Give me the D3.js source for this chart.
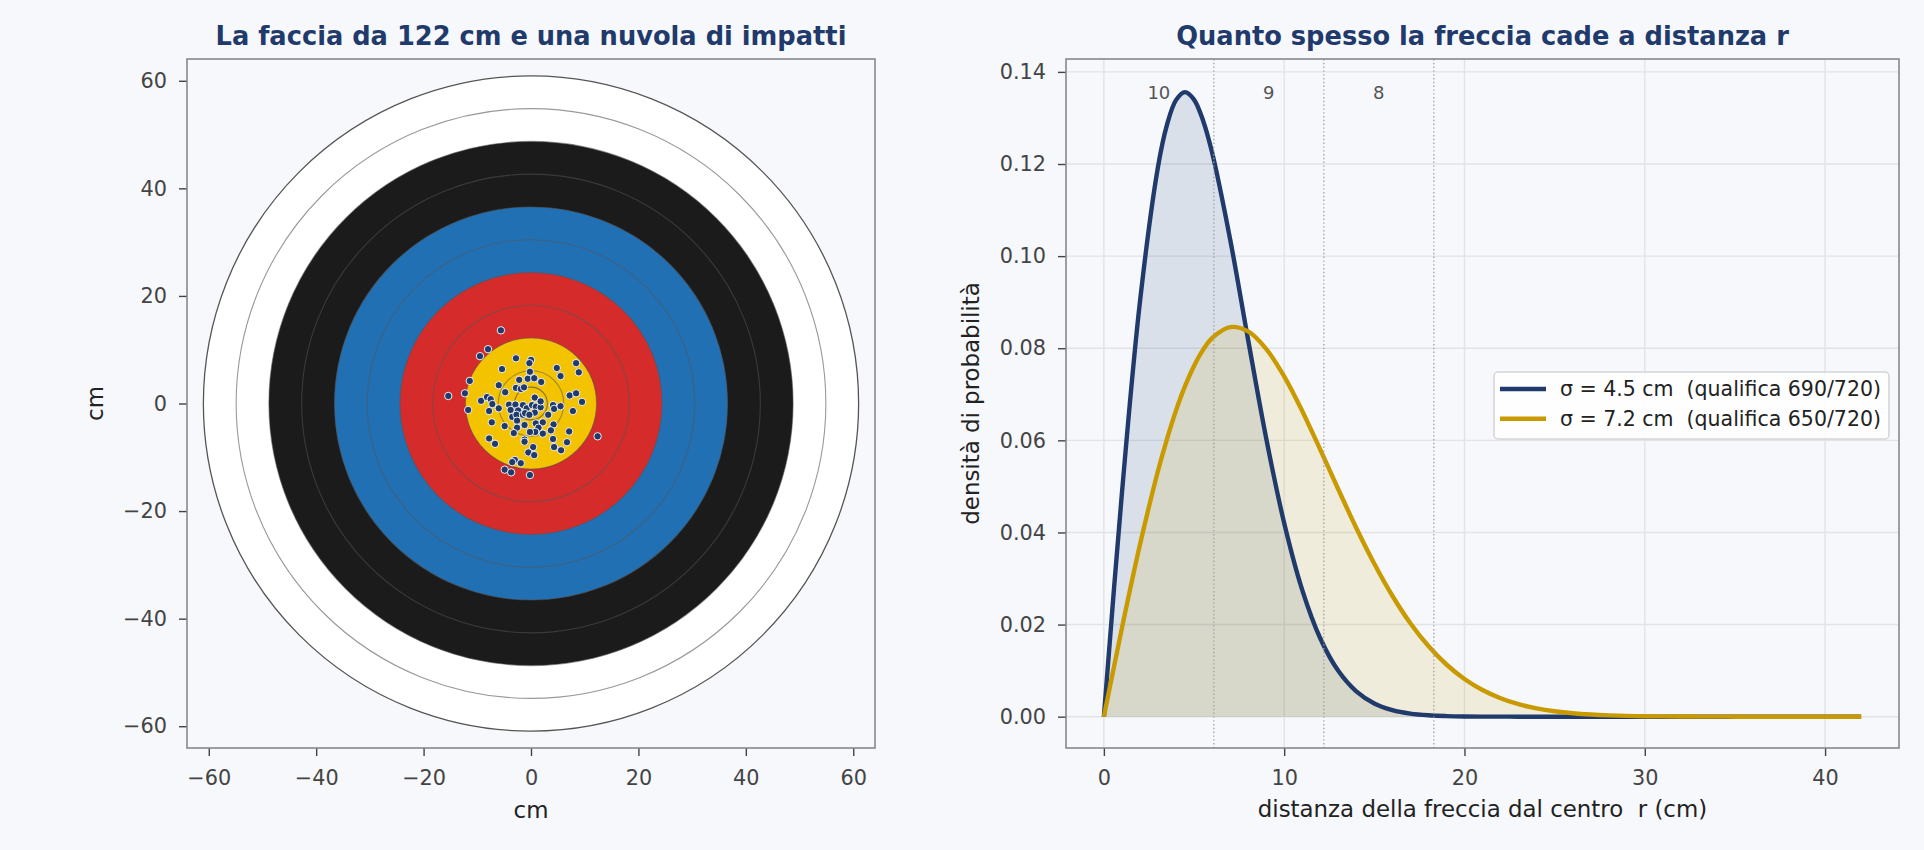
<!DOCTYPE html>
<html>
<head>
<meta charset="utf-8">
<script src="https://cdn.jsdelivr.net/npm/d3@7"></script>
<style>
  body { margin: 0; background: #f6f8fc; }
  svg { display: block; font-family: "DejaVu Sans", sans-serif; }
  text { white-space: pre; }
</style>
</head>
<body>
<svg width="1924" height="850"></svg>
<script>
// ---- data ----
// ring radii of the 122 cm face, outer to inner (cm)
var ringRadii  = [61, 54.9, 48.8, 42.7, 36.6, 30.5, 24.4, 18.3, 12.2, 6.1, 3.05];
var ringColors = ["#ffffff", "#ffffff", "#1b1b1b", "#1b1b1b", "#2170b4", "#2170b4",
                  "#d62b2b", "#d62b2b", "#f4c300", "#f4c300", "#f4c300"];

// impacts (cm from centre)
var impactX = [-5.6, -8.0, -9.5, -2.8, 0.0, -0.3, 8.4, 8.9, 4.8, 5.5, -5.4, -0.2, -2.2, -0.6, 0.6,
               1.9, -11.4, -6.0, -4.8, -2.8, -1.9, -1.3, -12.3, -15.4, -9.3, -8.2, -7.5, -7.2, -11.7, -7.8,
               -6.0, -4.1, -2.9, -1.5, -3.8, -2.4, -0.8, 0.7, 0.2, 0.9, 1.8, 0.7, -3.5, -2.7, -1.5,
               -1.1, -7.3, -4.9, -2.6, -2.6, -3.2, -1.2, 0.9, 2.2, 1.4, 0.8, -0.2, 2.2, 3.2, 4.1,
               4.3, 5.5, 4.2, 3.7, 7.2, 8.4, 9.5, 7.8, 7.1, 4.1, 6.7, 4.3, 5.6, 12.4, -7.8,
               -6.7, -1.2, -1.2, 0.4, -0.5, 0.6, -3.0, -3.5, -1.9, -4.9, -3.7, -0.2, 1.8, -0.3];
var impactY = [13.6, 10.1, 8.8, 8.4, 8.1, 7.5, 7.5, 5.8, 6.6, 5.1, 6.4, 5.9, 4.4, 4.6, 4.7,
               4.0, 4.2, 3.4, 2.1, 2.9, 2.7, 3.0, 1.9, 1.4, 0.5, 1.2, 0.8, -0.1, -1.2, -1.4,
               -0.9, -0.2, -0.2, -0.3, -1.2, -1.3, -0.9, 1.1, -0.3, -0.6, -0.7, -1.7, -2.5, -2.1, -2.1,
               -1.8, -3.5, -4.2, -3.2, -4.5, -5.5, -4.0, -3.7, -3.5, -4.5, -5.3, -5.3, -5.6, -2.1, -0.3,
               -1.0, -0.5, -3.9, -5.0, 1.5, 1.9, 0.3, -1.4, -5.2, -6.6, -7.2, -8.1, -8.7, -6.1, -6.5,
               -7.5, -6.7, -7.1, -8.1, -9.1, -9.6, -10.5, -10.9, -11.1, -12.3, -12.8, -13.3, 0.4, -2.1];

// distance from centre (cm) and density
var rCm = [0, 1, 2, 3, 3.5, 4, 4.5, 5, 5.5, 6, 7, 8, 9, 10, 11, 12, 13, 14, 15, 16, 17, 18, 19, 20,
           21, 22, 23, 24, 25, 26, 27, 28, 29, 30, 31, 32, 33, 34, 35, 36, 37, 38, 39, 40, 41, 42];
var dens45 = [0, 0.04847, 0.09002, 0.11934, 0.12850, 0.13387, 0.13561, 0.13399, 0.12946, 0.12254,
              0.10372, 0.08184, 0.06051, 0.04205, 0.02754, 0.01703, 0.00995, 0.00550, 0.00288, 0.00143,
              0.00067, 0.00030, 0.00013, 0.00005, 0.00002, 0.00001, 0, 0, 0, 0, 0, 0, 0, 0, 0, 0, 0,
              0, 0, 0, 0, 0, 0, 0, 0, 0];
var dens72 = [0, 0.01921, 0.03731, 0.05333, 0.06029, 0.06646, 0.07176, 0.07616, 0.07965, 0.08220,
              0.08459, 0.08366, 0.07988, 0.07390, 0.06639, 0.05801, 0.04938, 0.04098, 0.03321, 0.02626,
              0.02029, 0.01534, 0.01133, 0.00818, 0.00579, 0.00401, 0.00271, 0.00180, 0.00117, 0.00074,
              0.00046, 0.00028, 0.00017, 0.00010, 0.00006, 0.00003, 0.00002, 0.00001, 0, 0, 0, 0, 0,
              0, 0, 0];

var zoneEdges = [6.1, 12.2, 18.3];
var zoneLabels = ["10", "9", "8"];
var zoneMids = [3.05, 9.15, 15.25];

var seriesNames = ["σ = 4.5 cm  (qualifica 690/720)", "σ = 7.2 cm  (qualifica 650/720)"];
var seriesColors = ["#1f3a6b", "#c99a00"];

var svg = d3.select("svg");
var navy = "#1f3a6b";

// ---- left panel: target face ----
var L = {left: 187, right: 875, top: 59, bottom: 748};
var xL = d3.scaleLinear().domain([-64.05, 64.05]).range([L.left, L.right]),
    yL = d3.scaleLinear().domain([-64.05, 64.05]).range([L.bottom, L.top]);

var gL = svg.append("g");
gL.append("rect")
    .attr("x", L.left).attr("y", L.top)
    .attr("width", L.right - L.left).attr("height", L.bottom - L.top)
    .attr("fill", "#f6f8fc");

gL.selectAll(".ring")
  .data(ringRadii)
  .join("circle")
    .attr("class", "ring")
    .attr("cx", xL(0))
    .attr("cy", yL(0))
    .attr("r", d => xL(d) - xL(0))
    .attr("fill", (d, i) => ringColors[i])
    .attr("stroke", (d, i) => i === 0 ? "#555" : (i === 1 ? "#9a9a9a" : "#555"))
    .attr("stroke-opacity", (d, i) => i < 2 ? 1 : (i === 10 ? 0.75 : 0.55))
    .attr("stroke-width", (d, i) => i === 0 ? 1.3 : 1.1);

gL.selectAll(".impact")
  .data(impactX)
  .join("circle")
    .attr("class", "impact")
    .attr("cx", d => xL(d))
    .attr("cy", (d, i) => yL(impactY[i]))
    .attr("r", 3.7)
    .attr("fill", navy)
    .attr("stroke", "#ffffff")
    .attr("stroke-width", 0.9);

var axLx = gL.append("g")
    .attr("transform", "translate(0," + L.bottom + ")")
    .call(d3.axisBottom(xL).tickValues([-60, -40, -20, 0, 20, 40, 60]).tickSize(8).tickPadding(14));
var axLy = gL.append("g")
    .attr("transform", "translate(" + L.left + ",0)")
    .call(d3.axisLeft(yL).tickValues([-60, -40, -20, 0, 20, 40, 60]).tickSize(8).tickPadding(12));

gL.append("rect")
    .attr("x", L.left).attr("y", L.top)
    .attr("width", L.right - L.left).attr("height", L.bottom - L.top)
    .attr("fill", "none").attr("stroke", "#888").attr("stroke-width", 1.6);

gL.append("text")
    .attr("x", (L.left + L.right) / 2).attr("y", 45)
    .attr("text-anchor", "middle")
    .style("font-size", "25.7px").style("font-weight", "bold")
    .attr("fill", navy)
    .text("La faccia da 122 cm e una nuvola di impatti");

gL.append("text")
    .attr("x", (L.left + L.right) / 2).attr("y", 818)
    .attr("text-anchor", "middle")
    .style("font-size", "22.9px").attr("fill", "#222")
    .text("cm");

gL.append("text")
    .attr("transform", "translate(103," + (L.top + L.bottom) / 2 + ") rotate(-90)")
    .attr("text-anchor", "middle")
    .style("font-size", "22.9px").attr("fill", "#222")
    .text("cm");

// ---- right panel: radial density ----
var R = {left: 1066, right: 1899, top: 59, bottom: 748};
var xR = d3.scaleLinear().domain([-2.1, 44.1]).range([R.left, R.right]),
    yR = d3.scaleLinear().domain([-0.0068, 0.1428]).range([R.bottom, R.top]);

var gR = svg.append("g");
gR.append("rect")
    .attr("x", R.left).attr("y", R.top)
    .attr("width", R.right - R.left).attr("height", R.bottom - R.top)
    .attr("fill", "#f6f8fc");

var xTicks = [0, 10, 20, 30, 40],
    yTicks = [0, 0.02, 0.04, 0.06, 0.08, 0.10, 0.12, 0.14];

// grid
gR.selectAll(".gx")
  .data(xTicks)
  .join("line")
    .attr("x1", d => xR(d)).attr("x2", d => xR(d))
    .attr("y1", R.top).attr("y2", R.bottom)
    .attr("stroke", "#e1e3e8").attr("stroke-width", 1.4);
gR.selectAll(".gy")
  .data(yTicks)
  .join("line")
    .attr("y1", d => yR(d)).attr("y2", d => yR(d))
    .attr("x1", R.left).attr("x2", R.right)
    .attr("stroke", "#e1e3e8").attr("stroke-width", 1.4);

var series = [dens45, dens72];

var area = d3.area()
    .x((d, i) => xR(rCm[i]))
    .y0(yR(0))
    .y1(d => yR(d))
    .curve(d3.curveCatmullRom.alpha(0.5));

var line = d3.line()
    .x((d, i) => xR(rCm[i]))
    .y(d => yR(d))
    .curve(d3.curveCatmullRom.alpha(0.5));

gR.selectAll(".fill")
  .data(series)
  .join("path")
    .attr("d", area)
    .attr("fill", (d, i) => seriesColors[i])
    .attr("fill-opacity", 0.13);

gR.selectAll(".curve")
  .data(series)
  .join("path")
    .attr("d", line)
    .attr("fill", "none")
    .attr("stroke", (d, i) => seriesColors[i])
    .attr("stroke-width", 4.4)
    .attr("stroke-linejoin", "round");

// ring boundaries
gR.selectAll(".edge")
  .data(zoneEdges)
  .join("line")
    .attr("x1", d => xR(d)).attr("x2", d => xR(d))
    .attr("y1", R.top).attr("y2", R.bottom)
    .attr("stroke", "#a0a0a0").attr("stroke-width", 1.3)
    .attr("stroke-dasharray", "1.4,2.4");

gR.selectAll(".zone")
  .data(zoneLabels)
  .join("text")
    .attr("x", (d, i) => xR(zoneMids[i]))
    .attr("y", yR(0.1355))
    .attr("dy", "0.35em")
    .attr("text-anchor", "middle")
    .style("font-size", "18px")
    .attr("fill", "#555")
    .text(d => d);

var axRx = gR.append("g")
    .attr("transform", "translate(0," + R.bottom + ")")
    .call(d3.axisBottom(xR).tickValues(xTicks).tickFormat(d3.format("d")).tickSize(8).tickPadding(14));
var axRy = gR.append("g")
    .attr("transform", "translate(" + R.left + ",0)")
    .call(d3.axisLeft(yR).tickValues(yTicks).tickFormat(d3.format(".2f")).tickSize(8).tickPadding(12));

gR.append("rect")
    .attr("x", R.left).attr("y", R.top)
    .attr("width", R.right - R.left).attr("height", R.bottom - R.top)
    .attr("fill", "none").attr("stroke", "#888").attr("stroke-width", 1.6);

gR.append("text")
    .attr("x", (R.left + R.right) / 2).attr("y", 45)
    .attr("text-anchor", "middle")
    .style("font-size", "25.7px").style("font-weight", "bold")
    .attr("fill", navy)
    .text("Quanto spesso la freccia cade a distanza r");

gR.append("text")
    .attr("x", (R.left + R.right) / 2).attr("y", 817)
    .attr("text-anchor", "middle")
    .style("font-size", "22.9px").attr("fill", "#222")
    .text("distanza della freccia dal centro  r (cm)");

gR.append("text")
    .attr("transform", "translate(979," + (R.top + R.bottom) / 2 + ") rotate(-90)")
    .attr("text-anchor", "middle")
    .style("font-size", "22.9px").attr("fill", "#222")
    .text("densità di probabilità");

// legend
var legend = gR.append("g").attr("transform", "translate(1494,372)");
legend.append("rect")
    .attr("width", 395).attr("height", 67)
    .attr("rx", 4)
    .attr("fill", "#ffffff").attr("fill-opacity", 0.85)
    .attr("stroke", "#d4d4d4").attr("stroke-width", 1.5);

var items = legend.selectAll(".item")
  .data(seriesNames)
  .join("g")
    .attr("transform", (d, i) => "translate(0," + (17 + i * 29.7) + ")");
items.append("line")
    .attr("x1", 6).attr("x2", 52)
    .attr("stroke", (d, i) => seriesColors[i])
    .attr("stroke-width", 4.6);
items.append("text")
    .attr("x", 66)
    .attr("dy", "0.35em")
    .style("font-size", "20.5px")
    .attr("fill", "#222")
    .text(d => d);

// axis styling
svg.selectAll(".domain").remove();
svg.selectAll(".tick line").attr("stroke", "#444").attr("stroke-width", 1.4);
svg.selectAll(".tick text")
    .attr("fill", "#444")
    .style("font-size", "20.8px")
    .style("font-family", "DejaVu Sans, sans-serif");
</script>
</body>
</html>
